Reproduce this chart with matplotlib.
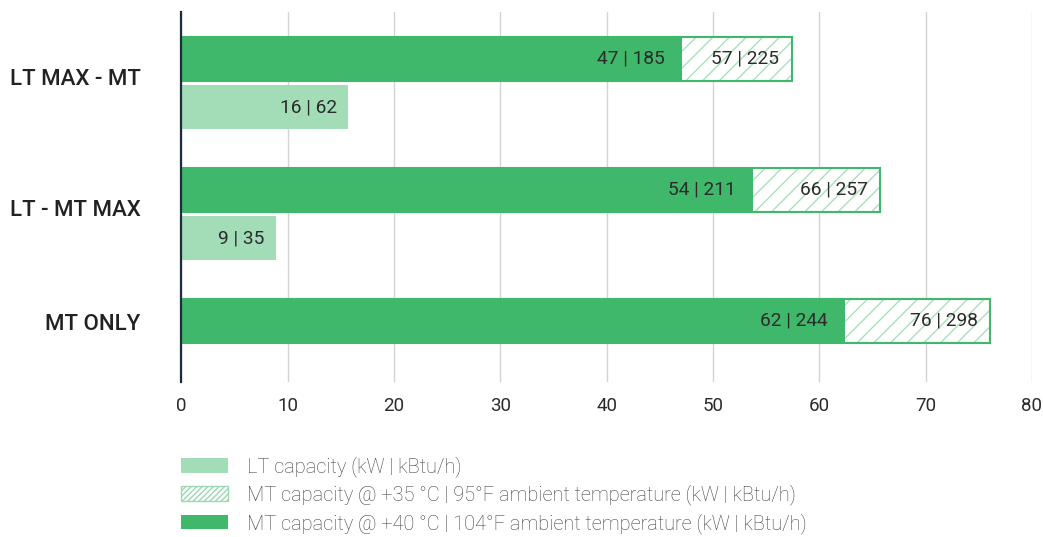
import numpy as np
import matplotlib.pyplot as plt
from matplotlib.patches import Patch

plt.rcParams['font.family'] = ['Roboto', 'DejaVu Sans']

categories = ['LT MAX - MT', 'LT - MT MAX', 'MT ONLY']
mt40 = [47.1, 53.8, 62.4]          # MT @ +40 °C
mt35 = [57.4, 65.7, 76.05]         # MT @ +35 °C
lt = [15.7, 8.9, 0]                # LT capacity
mt40_labels = ['47 | 185', '54 | 211', '62 | 244']
mt35_labels = ['57 | 225', '66 | 257', '76 | 298']
lt_labels = ['16 | 62', '9 | 35', '']
xticks = [0, 10, 20, 30, 40, 50, 60, 70, 80]

green = '#40b86b'
light = '#a2ddb8'
hatch_c = '#a8e0bd'
txt = '#2b2b2b'

fig = plt.figure(figsize=(10.43, 5.37), dpi=100)
ax = fig.add_axes([181.3 / 1043, 1 - 382 / 537, (1032 - 181.3) / 1043, (382 - 12) / 537])

y = np.arange(len(categories))
h = 0.334
off = 0.369

# hatched MT @35 bars (behind), then outline
ax.barh(y, mt35, height=h, color='white', edgecolor=hatch_c, hatch='//', linewidth=0, zorder=2)
ax.barh(y, mt35, height=h, fill=False, edgecolor=green, linewidth=1.5, zorder=3)
# solid MT @40
ax.barh(y, mt40, height=h, color=green, linewidth=0, zorder=4)
# LT bars
ax.barh(y + off, lt, height=h, color=light, linewidth=0, zorder=4)

fs = 13.8
for i in range(len(categories)):
    ax.text(mt40[i] - 1.65, y[i], mt40_labels[i], ha='right', va='center', fontsize=fs, color=txt, zorder=5)
    ax.text(mt35[i] - 1.15, y[i], mt35_labels[i], ha='right', va='center', fontsize=fs, color=txt, zorder=5)
    if lt[i] > 0:
        ax.text(lt[i] - 1.05, y[i] + off, lt_labels[i], ha='right', va='center', fontsize=fs, color=txt, zorder=5)

ax.set_xlim(0, 80)
ax.set_ylim(2.468, -0.357)
ax.set_xticks(xticks)
ax.set_xticklabels([str(v) for v in xticks], fontsize=13.5, color=txt)
ytick_pos = [y[i] + (0.14 if lt[i] > 0 else 0.01) for i in range(len(categories))]
ax.set_yticks(ytick_pos)
ax.set_yticklabels(categories, fontsize=16, fontweight='medium', color='#222222')
ax.tick_params(axis='x', length=0, pad=11)
ax.tick_params(axis='y', length=0, pad=29.2)

ax.grid(axis='x', color='#d4d4d4', linewidth=1, zorder=0)
ax.set_axisbelow(True)
for s in ['top', 'right', 'bottom']:
    ax.spines[s].set_visible(False)
ax.spines['left'].set_color('#1e2b3c')
ax.spines['left'].set_linewidth(1.6)
ax.spines['left'].set_zorder(6)

handles = [
    Patch(facecolor=light, edgecolor='none'),
    Patch(facecolor='white', edgecolor='#9ad8b1', hatch='//////', linewidth=1),
    Patch(facecolor=green, edgecolor='none'),
]
labels = [
    'LT capacity (kW | kBtu/h)',
    'MT capacity @ +35 °C | 95°F ambient temperature (kW | kBtu/h)',
    'MT capacity @ +40 °C | 104°F ambient temperature (kW | kBtu/h)',
]
leg = fig.legend(handles, labels, loc='upper left', bbox_to_anchor=(181 / 1043, 1 - 456 / 537),
                 frameon=False, fontsize=14.4, handlelength=2.35, handleheight=0.75,
                 handletextpad=0.95, labelspacing=0.38, borderpad=0, borderaxespad=0)
for t in leg.get_texts():
    t.set_color('#444444')
    t.set_fontweight('light')

fig.savefig('out.png', dpi=100)
